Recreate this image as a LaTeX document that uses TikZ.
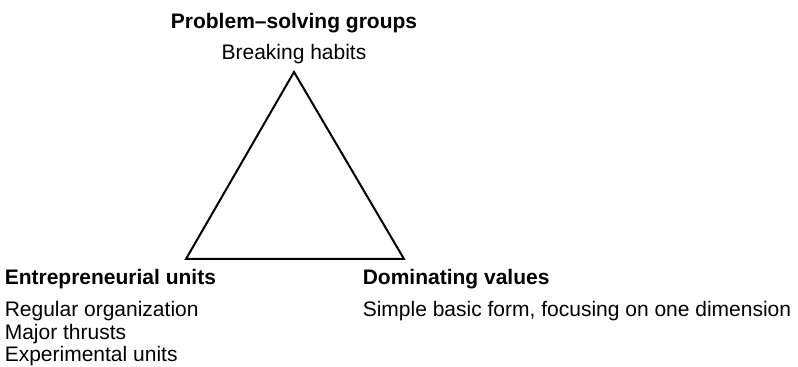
\documentclass[tikz,border=0pt]{standalone}
\usepackage{fontspec}
\setmainfont{Liberation Sans}
\usetikzlibrary{positioning}

\tikzset{
	head/.style={font=\fontsize{10.5}{12}\selectfont\bfseries, inner sep=0pt},
	body/.style={font=\fontsize{10.5}{12}\selectfont, inner sep=0pt},
}

\begin{document}
\begin{tikzpicture}[x=1pt,y=1pt]
	\useasboundingbox (0,0) rectangle (399,183.5);
	
	\coordinate (apex) at (147,147.5);
	\coordinate (lcorner) at (93,54);
	\coordinate (rcorner) at (202,54);
	
	\draw [line width=1pt] (apex) -- (lcorner) -- (rcorner) -- cycle;
	
	\node (habits) [body, above=6pt of apex, anchor=base] {Breaking habits};
	\node (groups) [head, above=15.5pt of habits.base, anchor=base] {Problem–solving groups};
	
	\node (units) [head, anchor=base west] at (2.2,41) {Entrepreneurial units};
	\node (regular) [body, below=16pt of units.base west, anchor=base west] {Regular organization};
	\node (thrusts) [body, below=11.25pt of regular.base west, anchor=base west] {Major thrusts};
	\node (experimental) [body, below=11.25pt of thrusts.base west, anchor=base west] {Experimental units};
	
	\node (values) [head, anchor=base west] at (181.2,41) {Dominating values};
	\node (simple) [body, below=16pt of values.base west, anchor=base west] {Simple basic form, focusing on one dimension};
	
\end{tikzpicture}
\end{document}
